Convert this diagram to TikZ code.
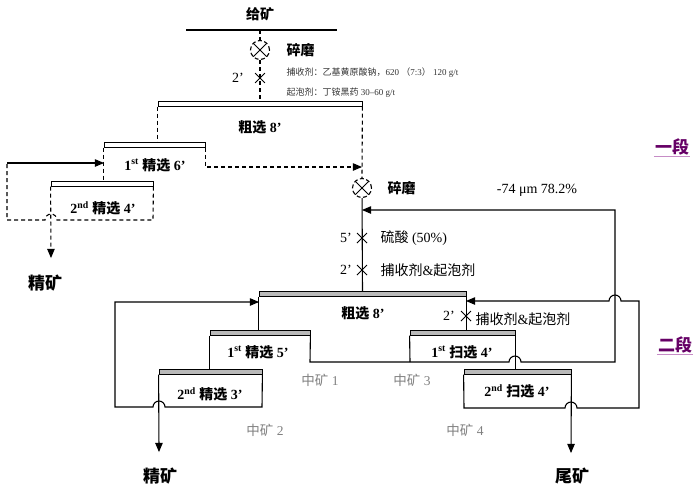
\documentclass[tikz,border=0pt]{standalone}
\usepackage{fontspec}
\setmainfont{Liberation Serif}
\newfontfamily\cjk{Noto Sans CJK SC}
\usetikzlibrary{arrows,shapes.misc}
\newcommand{\zh}[1]{{\cjk #1}}
\newcommand{\fs}[1]{\fontsize{#1}{#1}\selectfont}

\tikzset{
  flow/.style={line width=1.1pt},
  dsh/.style={flow, dash pattern=on 4pt off 3pt},
  bar1/.style={draw, line width=0.8pt, fill=white, minimum height=4.5, inner sep=0pt},
  bar2/.style={draw, line width=0.8pt, fill=gray!55, minimum height=4.5, inner sep=0pt},
  mill/.style={circle, draw, line width=1.1pt, dash pattern=on 4pt off 2.5pt, minimum size=19, inner sep=0pt,
    path picture={\draw[solid, line width=0.9pt] (path picture bounding box.north west) -- (path picture bounding box.south east)
      (path picture bounding box.north east) -- (path picture bounding box.south west);}},
  add/.style={cross out, draw, line width=1pt, minimum size=9, inner sep=0pt},
  lab/.style={font=\bfseries\fs{14}},
  big/.style={font=\bfseries\fs{17}},
  box/.style={font=\bfseries\fs{14}},
  reg/.style={font=\fs{14}},
  tag/.style={font=\fs{13.5}, text=gray},
  note/.style={font=\fs{9}, text=black!80, anchor=west},
  stage/.style={font=\bfseries\fs{17}, text=violet!80!black, inner sep=1pt}
}

\begin{document}
\begin{tikzpicture}[x=1pt, y=-1pt]
\useasboundingbox (0,0) rectangle (700,491);
%
% stage 1
\node[lab] (feed) at (260,14) {\zh{给矿}};
\coordinate (fa) at (186,30);
\coordinate (fb) at (337,30);
\coordinate (f0) at (260,30);
\node[mill] (m1) at (260,50) {};
\node[lab, anchor=west] (m1t) at (283,50) {\zh{碎磨}};
\node[add, line width=0.8pt] (x0) at (260,78) {};
\node[reg] (x0t) at (238,78) {2’};
\node[note] (re1) at (283,73) {\zh{捕收剂：乙基黄原酸钠，}620 \zh{（}7:3\zh{）} 120 g/t};
\node[note] (re2) at (283,93) {\zh{起泡剂：丁铵黑药} 30–60 g/t};
\node[bar1, minimum width=204] (r1) at (260,104) {};
\node[box] (r1t) at (260,127) {\zh{粗选} 8’};
\node[bar1, minimum width=101] (c1) at (154.5,145) {};
\node[box] (c1t) at (155,165) {1\textsuperscript{st} \zh{精选} 6’};
\node[bar1, minimum width=102] (c2) at (102,184) {};
\node[box] (c2t) at (103,208) {2\textsuperscript{nd} \zh{精选} 4’};
\node[big] (con1) at (45,283) {\zh{精矿}};
\node[mill] (m2) at (362,188) {};
\coordinate (e1) at (51,258);
\coordinate (j1) at (362,167);
\coordinate (k1) at (7,163);
\coordinate (k2) at (104,163);
%
\draw[flow] (fa) -- (fb);
\draw[dsh] (f0) -- (m1) -- (r1);
\draw[dsh] (r1.south west) -- (r1.south west |- c1.north);
\draw[dsh] (r1.south east) -- (m2.north);
\draw[dsh, -triangle 45] (c1.south east) |- (j1);
\draw[dsh] (c1.south west) -- (c1.south west |- c2.north);
\draw[dsh, -triangle 45] (c2.south west) -- (e1);
\draw[dsh] (c2.south east) -- (153,220) -- (57,220) arc[start angle=0, end angle=-180, radius=6] -- (7,220) -- (k1);
\draw[flow, -triangle 45] (k1) -- (k2);
%
% stage 2
\node[lab, anchor=west] (m2t) at (384,188) {\zh{碎磨}};
\node[reg] (size) at (537,190) {-74 μm 78.2\%};
\node[add] (x5) at (362,238) {};
\node[reg] (x5t) at (346,238) {5’};
\node[reg, anchor=west] (acid) at (377,238) {\zh{硫酸} (50\%)};
\node[add] (x6) at (362,270) {};
\node[reg] (x6t) at (346,270) {2’};
\node[reg, anchor=west] (rg1) at (377,270) {\zh{捕收剂}\&\zh{起泡剂}};
\node[bar2, minimum width=207] (r2) at (362.5,294) {};
\node[box] (r2t) at (363,313) {\zh{粗选} 8’};
\node[add] (x7) at (466,316) {};
\node[reg] (x7t) at (449,316) {2’};
\node[reg, anchor=west] (rg2) at (472,319) {\zh{捕收剂}\&\zh{起泡剂}};
\node[bar2, minimum width=100] (c3) at (260,333) {};
\node[box] (c3t) at (258,352) {1\textsuperscript{st} \zh{精选} 5’};
\node[bar2, minimum width=103] (c4) at (210.5,372) {};
\node[box] (c4t) at (210,394) {2\textsuperscript{nd} \zh{精选} 3’};
\node[bar2, minimum width=105] (s1) at (462.5,333) {};
\node[box] (s1t) at (462,352) {1\textsuperscript{st} \zh{扫选} 4’};
\node[bar2, minimum width=107] (s2) at (517.5,372) {};
\node[box] (s2t) at (517,391) {2\textsuperscript{nd} \zh{扫选} 4’};
\node[tag] (mid1) at (320,380) {\zh{中矿} 1};
\node[tag] (mid3) at (412,380) {\zh{中矿} 3};
\node[tag] (mid2) at (265,430) {\zh{中矿} 2};
\node[tag] (mid4) at (465,430) {\zh{中矿} 4};
\node[big] (con2) at (160,476) {\zh{精矿}};
\node[big] (tail) at (572,476) {\zh{尾矿}};
\coordinate (e2) at (159,452);
\coordinate (e3) at (571,453);
\coordinate (j2) at (362,210);
\coordinate (j3) at (466,301);
\coordinate (j4) at (259,302);
%
\draw[flow] (m2) -- (r2);
\draw[flow] (r2.south west) -- (r2.south west |- c3.north);
\draw[flow] (r2.south east) -- (r2.south east |- s1.north);
\draw[flow] (c3.south west) -- (c3.south west |- c4.north);
\draw[flow] (s1.south east) -- (s1.south east |- s2.north);
\draw[flow] (s1.south west) -- (410,362);
\draw[flow, -triangle 45] (c3.south east) -- (310,362) -- (509,362) arc[start angle=180, end angle=360, radius=6] -- (615,362) -- (615,210) -- (j2);
\draw[flow, -triangle 45] (s2.south west) -- (464,408) -- (565,408) arc[start angle=180, end angle=360, radius=6] -- (639,408) -- (639,301) -- (621,301) arc[start angle=0, end angle=-180, radius=6] -- (j3);
\draw[flow, -triangle 45] (s2.south east) -- (e3);
\draw[flow, -triangle 45] (c4.south west) -- (e2);
\draw[flow, -triangle 45] (c4.south east) -- (262,407) -- (165,407) arc[start angle=0, end angle=-180, radius=6] -- (115,407) -- (115,302) -- (j4);
%
\node[stage] (st1) at (672,147) {\zh{一段}};
\node[stage] (st2) at (675,345) {\zh{二段}};
\draw[violet!45, line width=0.8pt] (st1.south west) -- (st1.south east);
\draw[violet!45, line width=0.8pt] (st2.south west) -- (st2.south east);
\end{tikzpicture}
\end{document}
